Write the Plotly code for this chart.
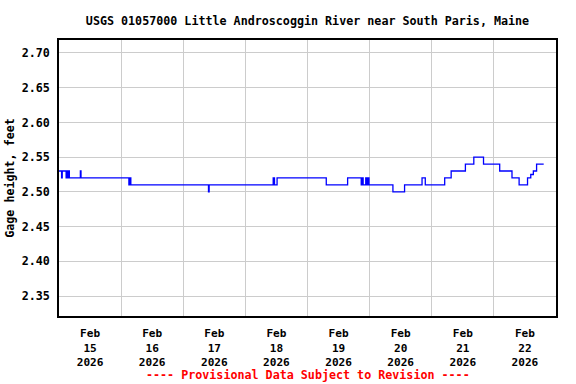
import plotly.graph_objects as go

# Change points of the gage-height record (step series)
change_times = [
    "2026-02-15 00:00", "2026-02-15 01:00", "2026-02-15 01:15", "2026-02-15 02:45",
    "2026-02-15 03:00", "2026-02-15 03:30", "2026-02-15 03:45", "2026-02-15 04:00",
    "2026-02-15 08:15", "2026-02-15 08:30",
    "2026-02-16 03:00", "2026-02-16 03:15", "2026-02-16 03:45",
    "2026-02-17 09:45", "2026-02-17 10:00",
    "2026-02-18 10:45", "2026-02-18 11:15", "2026-02-18 12:15",
    "2026-02-19 07:15", "2026-02-19 15:30",
    "2026-02-19 20:45", "2026-02-19 21:15", "2026-02-19 21:30", "2026-02-19 22:30",
    "2026-02-19 23:00", "2026-02-19 23:15", "2026-02-19 23:45",
    "2026-02-20 09:00", "2026-02-20 13:30", "2026-02-20 20:15", "2026-02-20 21:30",
    "2026-02-21 05:00", "2026-02-21 07:30", "2026-02-21 13:00", "2026-02-21 16:15",
    "2026-02-21 20:00",
    "2026-02-22 02:15", "2026-02-22 07:00", "2026-02-22 09:45", "2026-02-22 13:00",
    "2026-02-22 14:15", "2026-02-22 15:15", "2026-02-22 16:30", "2026-02-22 19:15",
]
gage_height = [
    2.53, 2.52, 2.53, 2.52,
    2.53, 2.52, 2.53, 2.52,
    2.53, 2.52,
    2.51, 2.52, 2.51,
    2.50, 2.51,
    2.52, 2.51, 2.52,
    2.51, 2.52,
    2.51, 2.52, 2.51, 2.52,
    2.51, 2.52, 2.51,
    2.50, 2.51, 2.52, 2.51,
    2.52, 2.53, 2.54, 2.55,
    2.54,
    2.53, 2.52, 2.51, 2.52,
    2.525, 2.53, 2.54, 2.54,
]

day_labels = ["Feb<br>15<br>2026", "Feb<br>16<br>2026", "Feb<br>17<br>2026", "Feb<br>18<br>2026",
              "Feb<br>19<br>2026", "Feb<br>20<br>2026", "Feb<br>21<br>2026", "Feb<br>22<br>2026"]
label_times = ["2026-02-%02d 12:00" % d for d in range(15, 23)]
grid_times = ["2026-02-%02d 00:00" % d for d in range(16, 23)]
y_ticks = [2.35, 2.40, 2.45, 2.50, 2.55, 2.60, 2.65, 2.70]

FONT = "DejaVu Sans Mono"
FS = 11.7

fig = go.Figure()
fig.add_trace(go.Scatter(
    x=change_times, y=gage_height, mode="lines", line_shape="hv",
    line=dict(color="#0000ff", width=1.3), showlegend=False, hoverinfo="skip",
))

fig.update_layout(
    width=576, height=384,
    margin=dict(l=59, r=20, t=40, b=68, autoexpand=False),
    paper_bgcolor="white", plot_bgcolor="white",
    font=dict(family=FONT, size=FS, color="black", weight="bold"),
    title=dict(text="USGS 01057000 Little Androscoggin River near South Paris, Maine",
               x=0.5, xref="paper", xanchor="center", y=1, yref="container", yanchor="top", pad=dict(t=17),
               font=dict(family=FONT, size=FS, color="black", weight="bold")),
)
fig.update_xaxes(
    type="date", range=["2026-02-15 00:00", "2026-02-23 00:00"],
    tickmode="array", tickvals=label_times, ticktext=day_labels,
    showgrid=False, ticks="", ticklen=0, automargin=False, ticklabelstandoff=6,
    minor=dict(tickmode="array", tickvals=grid_times, showgrid=True, gridcolor="#cccccc", gridwidth=1, ticks=""),
    showline=True, linecolor="black", linewidth=1.5, mirror=True,
    zeroline=False, tickfont=dict(family=FONT, size=11.1, weight="bold"),
)
fig.update_yaxes(
    range=[2.3212, 2.7187], tickmode="array", tickvals=y_ticks,
    ticktext=["%.2f" % v for v in y_ticks], automargin=False,
    showgrid=True, gridcolor="#cccccc", gridwidth=1, ticks="", ticklabelstandoff=5,
    showline=True, linecolor="black", linewidth=1.5, mirror=True, zeroline=False,
    title=dict(text="Gage height, feet", standoff=5, font=dict(family=FONT, size=FS, weight="bold")),
    tickfont=dict(family=FONT, size=FS, weight="bold"),
)
fig.add_annotation(
    text="---- Provisional Data Subject to Revision ----", xref="paper", yref="paper",
    x=0.5, y=0, yshift=-59, xanchor="center", yanchor="middle", showarrow=False,
    font=dict(family=FONT, size=FS, color="#ff0000", weight="bold"),
)
fig.write_html("out.html", config={"displayModeBar": False},
               post_script="document.body.style.margin='0';document.body.style.padding='0';")
